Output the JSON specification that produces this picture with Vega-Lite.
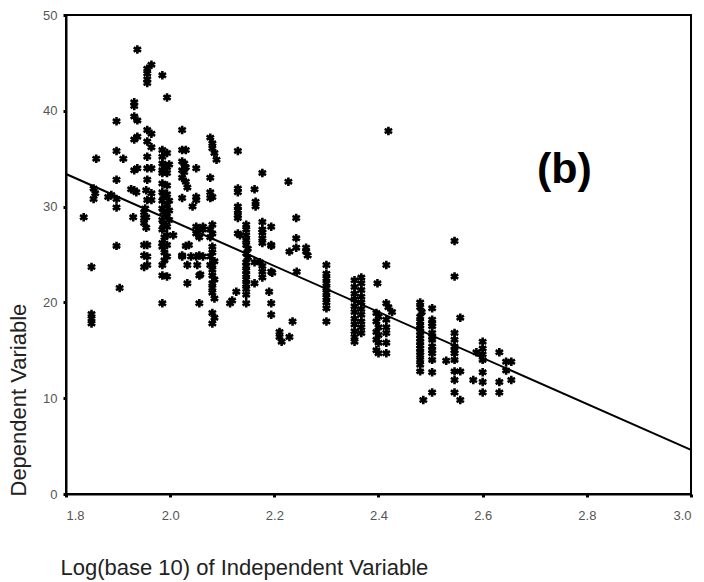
{
"$schema": "https://vega.github.io/schema/vega-lite/v6.json",
"autosize": "none",
"width": 625,
"height": 479,
"padding": {"left": 66, "top": 15, "right": 13, "bottom": 88},
"background": "white",
"config": {
"view": {"stroke": "black", "strokeWidth": 2},
"font": "Liberation Sans",
"axis": {"grid": false, "domainColor": "black", "domainWidth": 2, "tickColor": "black", "tickWidth": 3, "tickSize": 3, "labelColor": "#555555", "labelFont": "Liberation Sans Narrow, Liberation Sans", "labelFontSize": 13, "titleFont": "Liberation Sans", "titleFontWeight": "normal", "titleColor": "#222222", "titleFontSize": 22}
},
"datasets": {
"pts": [
{"x":1.834,"y":28.9},
{"x":1.849,"y":23.7},{"x":1.849,"y":18.8},{"x":1.849,"y":18.3},{"x":1.849,"y":17.8},{"x":1.853,"y":31.9},{"x":1.853,"y":30.8},{"x":1.856,"y":31.4},
{"x":1.858,"y":35.0},
{"x":1.881,"y":31.0},{"x":1.887,"y":31.2},
{"x":1.897,"y":38.9},{"x":1.897,"y":35.8},{"x":1.897,"y":32.8},{"x":1.897,"y":30.8},{"x":1.897,"y":29.9},{"x":1.897,"y":25.9},{"x":1.903,"y":21.5},
{"x":1.91,"y":35.0},
{"x":1.929,"y":28.9},
{"x":1.925,"y":31.8},{"x":1.931,"y":31.7},{"x":1.935,"y":31.5},
{"x":1.931,"y":40.9},{"x":1.931,"y":40.5},{"x":1.931,"y":39.4},{"x":1.937,"y":39.0},{"x":1.931,"y":37.0},{"x":1.937,"y":37.3},{"x":1.931,"y":33.8},{"x":1.937,"y":34.0},
{"x":1.937,"y":46.4},
{"x":1.956,"y":44.4},{"x":1.956,"y":43.9},{"x":1.956,"y":43.3},{"x":1.956,"y":42.9},{"x":1.964,"y":44.8},
{"x":1.956,"y":38.0},{"x":1.964,"y":37.6},{"x":1.956,"y":36.8},{"x":1.964,"y":36.2},{"x":1.956,"y":35.2},
{"x":1.956,"y":34.0},{"x":1.964,"y":34.0},{"x":1.956,"y":32.8},{"x":1.954,"y":31.7},{"x":1.964,"y":31.4},{"x":1.956,"y":30.7},{"x":1.964,"y":30.7},{"x":1.952,"y":29.8},{"x":1.954,"y":28.9},{"x":1.954,"y":27.8},
{"x":1.95,"y":29.4},{"x":1.95,"y":28.8},{"x":1.95,"y":28.3},{"x":1.95,"y":26.0},{"x":1.956,"y":26.0},{"x":1.95,"y":24.9},{"x":1.95,"y":23.7},{"x":1.956,"y":24.8},{"x":1.956,"y":23.9},
{"x":1.985,"y":43.7},{"x":1.994,"y":41.4},
{"x":1.985,"y":35.9},{"x":1.994,"y":35.6},{"x":1.985,"y":35.2},{"x":1.985,"y":34.5},{"x":1.998,"y":34.4},{"x":1.989,"y":34.3},{"x":1.994,"y":34.1},{"x":1.985,"y":33.8},{"x":1.994,"y":33.5},{"x":1.985,"y":33.5},{"x":1.985,"y":32.4},{"x":1.994,"y":32.2},
{"x":1.985,"y":31.5},{"x":1.994,"y":31.3},{"x":1.987,"y":31.1},{"x":1.998,"y":30.6},{"x":1.985,"y":30.6},{"x":1.994,"y":30.2},{"x":1.985,"y":29.8},{"x":1.998,"y":29.6},{"x":1.987,"y":29.4},{"x":1.994,"y":29.0},{"x":1.985,"y":28.6},{"x":1.998,"y":28.6},{"x":1.987,"y":28.1},{"x":1.994,"y":27.9},{"x":1.985,"y":27.6},{"x":1.994,"y":27.0},{"x":1.989,"y":26.8},{"x":1.985,"y":26.2},{"x":1.994,"y":26.0},{"x":1.985,"y":25.8},{"x":1.989,"y":25.2},{"x":1.994,"y":24.8},{"x":1.989,"y":24.4},{"x":1.985,"y":23.9},{"x":1.985,"y":22.8},{"x":1.994,"y":22.7},{"x":1.985,"y":19.9},
{"x":2.006,"y":27.0},
{"x":2.023,"y":38.0},{"x":2.023,"y":35.9},{"x":2.03,"y":35.9},{"x":2.023,"y":34.7},{"x":2.027,"y":34.5},{"x":2.03,"y":34.1},{"x":2.023,"y":33.8},{"x":2.027,"y":33.6},{"x":2.023,"y":33.0},{"x":2.03,"y":32.6},{"x":2.033,"y":32.0},{"x":2.023,"y":30.9},{"x":2.023,"y":24.9},{"x":2.023,"y":24.8},
{"x":2.03,"y":25.9},{"x":2.033,"y":22.0},{"x":2.033,"y":23.9},
{"x":2.05,"y":34.0},{"x":2.05,"y":31.0},{"x":2.05,"y":30.7},{"x":2.043,"y":30.0},{"x":2.05,"y":27.9},{"x":2.056,"y":27.6},{"x":2.05,"y":27.2},{"x":2.056,"y":26.8},{"x":2.04,"y":24.8},{"x":2.05,"y":24.8},{"x":2.056,"y":24.9},{"x":2.052,"y":23.9},{"x":2.058,"y":22.9},{"x":2.056,"y":22.8},{"x":2.056,"y":19.9},{"x":2.036,"y":26.0},
{"x":2.063,"y":27.9},{"x":2.063,"y":27.6},{"x":2.063,"y":24.8},
{"x":2.077,"y":37.2},{"x":2.081,"y":36.6},{"x":2.081,"y":36.1},{"x":2.085,"y":35.6},{"x":2.089,"y":34.9},{"x":2.077,"y":33.0},{"x":2.077,"y":31.5},{"x":2.081,"y":31.0},{"x":2.077,"y":30.9},
{"x":2.081,"y":28.1},{"x":2.077,"y":27.6},{"x":2.081,"y":27.2},{"x":2.077,"y":26.8},{"x":2.081,"y":25.8},{"x":2.081,"y":25.2},{"x":2.077,"y":24.8},{"x":2.085,"y":24.3},{"x":2.081,"y":23.9},{"x":2.077,"y":23.9},{"x":2.081,"y":23.4},{"x":2.081,"y":22.8},{"x":2.085,"y":22.4},{"x":2.081,"y":22.0},{"x":2.081,"y":21.5},{"x":2.081,"y":21.0},{"x":2.085,"y":20.4},{"x":2.081,"y":18.9},{"x":2.085,"y":18.4},{"x":2.081,"y":17.8},
{"x":2.115,"y":19.9},{"x":2.119,"y":20.2},{"x":2.127,"y":21.1},
{"x":2.13,"y":35.8},{"x":2.13,"y":31.9},{"x":2.13,"y":31.5},{"x":2.13,"y":30.0},{"x":2.13,"y":29.6},{"x":2.13,"y":29.1},{"x":2.13,"y":28.8},{"x":2.13,"y":27.2},{"x":2.134,"y":27.0},
{"x":2.146,"y":28.1},{"x":2.146,"y":27.6},{"x":2.146,"y":27.0},{"x":2.146,"y":26.5},{"x":2.146,"y":26.0},{"x":2.149,"y":25.6},{"x":2.146,"y":25.1},{"x":2.149,"y":24.7},{"x":2.146,"y":24.2},{"x":2.146,"y":23.8},{"x":2.146,"y":23.3},{"x":2.146,"y":22.9},{"x":2.146,"y":22.4},{"x":2.146,"y":21.9},{"x":2.146,"y":21.4},{"x":2.146,"y":20.8},{"x":2.146,"y":19.9},
{"x":2.162,"y":31.8},{"x":2.164,"y":30.5},{"x":2.164,"y":30.0},{"x":2.162,"y":24.2},{"x":2.162,"y":22.0},
{"x":2.177,"y":33.5},{"x":2.177,"y":28.4},{"x":2.177,"y":27.6},{"x":2.177,"y":27.3},{"x":2.177,"y":26.7},{"x":2.177,"y":26.2},{"x":2.172,"y":24.2},{"x":2.177,"y":23.8},{"x":2.177,"y":23.2},{"x":2.177,"y":22.6},
{"x":2.194,"y":27.9},{"x":2.194,"y":26.0},{"x":2.194,"y":25.9},{"x":2.194,"y":23.2},{"x":2.196,"y":23.1},
{"x":2.19,"y":21.1},{"x":2.194,"y":19.9},{"x":2.194,"y":18.7},
{"x":2.21,"y":16.9},{"x":2.21,"y":16.4},{"x":2.214,"y":15.9},{"x":2.229,"y":16.4},
{"x":2.227,"y":32.6},{"x":2.229,"y":25.3},{"x":2.235,"y":18.0},
{"x":2.242,"y":28.8},{"x":2.242,"y":26.7},{"x":2.242,"y":25.7},{"x":2.243,"y":23.2},
{"x":2.261,"y":25.7},{"x":2.261,"y":25.3},{"x":2.264,"y":24.9},
{"x":2.30,"y":23.9},{"x":2.30,"y":23.0},{"x":2.30,"y":22.5},{"x":2.30,"y":22.0},{"x":2.30,"y":21.5},{"x":2.30,"y":21.0},{"x":2.30,"y":20.5},{"x":2.30,"y":20.0},{"x":2.30,"y":19.4},{"x":2.30,"y":18.0},
{"x":2.354,"y":22.3},{"x":2.354,"y":21.6},{"x":2.354,"y":20.9},{"x":2.354,"y":20.3},{"x":2.354,"y":19.6},{"x":2.354,"y":19.0},{"x":2.354,"y":18.3},{"x":2.354,"y":17.7},{"x":2.354,"y":17.0},{"x":2.354,"y":16.4},{"x":2.354,"y":15.9},
{"x":2.367,"y":22.6},{"x":2.367,"y":22.0},{"x":2.367,"y":21.3},{"x":2.367,"y":20.6},{"x":2.367,"y":20.0},{"x":2.367,"y":19.3},{"x":2.367,"y":18.7},{"x":2.367,"y":18.0},{"x":2.367,"y":17.4},{"x":2.367,"y":16.8},
{"x":2.398,"y":22.0},{"x":2.415,"y":23.9},{"x":2.419,"y":37.9},
{"x":2.396,"y":18.9},{"x":2.4,"y":18.5},{"x":2.396,"y":18.0},{"x":2.4,"y":17.4},{"x":2.396,"y":16.9},{"x":2.4,"y":16.6},{"x":2.396,"y":16.1},{"x":2.4,"y":15.8},{"x":2.396,"y":15.0},{"x":2.4,"y":14.7},
{"x":2.415,"y":19.9},{"x":2.419,"y":19.5},{"x":2.426,"y":19.0},{"x":2.415,"y":18.2},{"x":2.415,"y":17.4},{"x":2.415,"y":16.8},{"x":2.415,"y":15.8},{"x":2.415,"y":14.7},
{"x":2.48,"y":20.0},{"x":2.48,"y":19.5},{"x":2.483,"y":19.0},{"x":2.48,"y":18.5},{"x":2.48,"y":18.0},{"x":2.48,"y":17.6},{"x":2.48,"y":17.3},{"x":2.48,"y":16.9},{"x":2.48,"y":16.6},{"x":2.48,"y":16.2},{"x":2.48,"y":15.9},{"x":2.48,"y":15.5},{"x":2.48,"y":15.2},{"x":2.48,"y":14.8},{"x":2.48,"y":14.5},{"x":2.48,"y":14.0},{"x":2.48,"y":13.5},{"x":2.48,"y":12.8},{"x":2.486,"y":9.8},
{"x":2.503,"y":19.4},{"x":2.503,"y":18.2},{"x":2.503,"y":17.8},{"x":2.503,"y":17.5},{"x":2.503,"y":16.8},{"x":2.503,"y":16.4},{"x":2.503,"y":16.1},{"x":2.503,"y":15.4},{"x":2.503,"y":15.0},{"x":2.503,"y":14.7},{"x":2.503,"y":14.0},{"x":2.503,"y":12.7},{"x":2.503,"y":10.6},
{"x":2.53,"y":13.9},
{"x":2.546,"y":26.4},{"x":2.546,"y":22.7},
{"x":2.546,"y":16.8},{"x":2.546,"y":16.1},{"x":2.546,"y":15.4},{"x":2.546,"y":15.0},{"x":2.546,"y":14.7},{"x":2.546,"y":14.0},{"x":2.546,"y":12.8},{"x":2.546,"y":11.9},{"x":2.546,"y":10.6},
{"x":2.557,"y":18.4},{"x":2.557,"y":12.8},{"x":2.557,"y":9.8},
{"x":2.582,"y":11.9},{"x":2.588,"y":14.8},
{"x":2.6,"y":15.9},{"x":2.6,"y":15.2},{"x":2.6,"y":14.6},{"x":2.6,"y":14.0},{"x":2.6,"y":12.7},{"x":2.6,"y":11.7},{"x":2.6,"y":10.6},
{"x":2.632,"y":14.8},{"x":2.632,"y":11.7},{"x":2.632,"y":10.6},
{"x":2.645,"y":13.8},{"x":2.645,"y":12.9},{"x":2.655,"y":13.8},{"x":2.655,"y":11.9}
],
"fit": [{"x":1.8,"y":33.4},{"x":3.0,"y":4.6}],
"lab": [{"x":2.757,"y":32.5,"t":"(b)"}]
},
"layer": [
{
"data": {"name": "pts"},
"mark": {"type": "point", "shape": "M0,-1L0,1M-0.87,-0.5L0.87,0.5M-0.87,0.5L0.87,-0.5", "filled": false, "stroke": "black", "strokeWidth": 2.6, "size": 72, "opacity": 1},
"encoding": {
"x": {"field": "x", "type": "quantitative", "scale": {"domain": [1.8, 3.0], "nice": false, "zero": false},
"axis": {"values": [1.8,2.0,2.2,2.4,2.6,2.8,3.0], "format": ".1f", "labelPadding": 12, "title": "Log(base 10) of Independent Variable", "titleAlign": "left", "titleAnchor": "start", "titleX": -6, "titleY": 73, "titleBaseline": "middle"}},
"y": {"field": "y", "type": "quantitative", "scale": {"domain": [0, 50], "nice": false, "zero": false},
"axis": {"values": [0,10,20,30,40,50], "labelPadding": 6, "title": "Dependent Variable", "titleAngle": -90, "titleAlign": "left", "titleX": -48, "titleY": 481, "titleBaseline": "middle"}}
}
},
{
"data": {"name": "fit"},
"mark": {"type": "line", "color": "black", "strokeWidth": 2},
"encoding": {"x": {"field": "x", "type": "quantitative"}, "y": {"field": "y", "type": "quantitative"}}
},
{
"data": {"name": "lab"},
"mark": {"type": "text", "font": "Liberation Sans", "fontWeight": "bold", "fontSize": 43, "align": "center", "baseline": "alphabetic", "color": "black"},
"encoding": {"x": {"field": "x", "type": "quantitative"}, "y": {"field": "y", "type": "quantitative"}, "text": {"field": "t"}}
}
]
}
